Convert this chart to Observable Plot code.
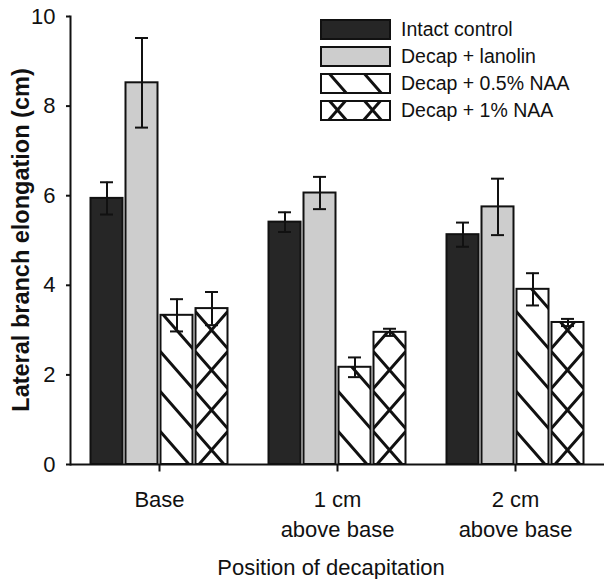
<!DOCTYPE html>
<html>
<head>
<meta charset="utf-8">
<script src="https://cdn.jsdelivr.net/npm/d3@7"></script>
<script src="https://cdn.jsdelivr.net/npm/@observablehq/plot@0.6"></script>
<style>
  html, body { margin: 0; padding: 0; background: #fff; }
  #wrap { position: relative; width: 604px; height: 579px; font-family: "Liberation Sans", Arial, sans-serif; color: #111; }
  #ylabel { position: absolute; left: 22px; top: 240px; transform: translate(-50%, -50%) rotate(-90deg); white-space: nowrap; font-weight: bold; font-size: 23.5px; line-height: 1; }
  #xlabel { position: absolute; left: 331px; top: 557px; transform: translateX(-50%); white-space: nowrap; font-size: 22px; line-height: 1; }
  #legend { position: absolute; left: 320px; top: 19px; }
  .row { display: flex; align-items: center; height: 21px; margin-bottom: 6px; font-size: 19.5px; }
  .row svg { margin-right: 10px; display: block; }
</style>
</head>
<body>
<div id="wrap"></div>
<script>
const groups = ["Base", "1 cm above base", "2 cm above base"];
const groupLabels = ["Base", "1 cm\nabove base", "2 cm\nabove base"];
const series = ["Intact control", "Decap + lanolin", "Decap + 0.5% NAA", "Decap + 1% NAA"];
// mean values per group, in series order
const baseValues = [5.94, 8.52, 3.33, 3.48];
const oneCmValues = [5.41, 6.06, 2.17, 2.95];
const twoCmValues = [5.13, 5.75, 3.91, 3.17];
// error (± SE) per group, in series order
const baseErrors = [0.36, 1.0, 0.36, 0.37];
const oneCmErrors = [0.22, 0.36, 0.22, 0.08];
const twoCmErrors = [0.27, 0.63, 0.36, 0.08];
const yTicks = [0, 2, 4, 6, 8, 10];
const seriesFills = ["#262626", "#cdcdcd", "url(#diag)", "url(#cross)"];

const valueRows = [baseValues, oneCmValues, twoCmValues];
const errorRows = [baseErrors, oneCmErrors, twoCmErrors];
const data = [];
groups.forEach((g, gi) => series.forEach((s, si) => {
  const v = valueRows[gi][si], e = errorRows[gi][si];
  data.push({group: g, series: s, value: v, lo: v - e, hi: v + e});
}));

const FONT = '"Liberation Sans", Arial, sans-serif';

// short downward tick at the middle of each group, drawn as a custom symbol
const groupTick = {draw(context) { context.moveTo(0, 0); context.lineTo(0, 7); }};

const plot = Plot.plot({
  width: 604,
  height: 579,
  marginLeft: 70,
  marginRight: 0,
  marginTop: 16,
  marginBottom: 115,
  style: {fontFamily: FONT, fontSize: "22px", color: "#111", background: "#fff"},
  facet: {data, x: "group"},
  fx: {domain: groups, paddingInner: 0, paddingOuter: 0, label: null},
  x: {domain: series, paddingInner: 0, paddingOuter: 0.525, axis: null},
  y: {domain: [0, 10], label: null},
  color: {domain: series, range: seriesFills},
  marks: [
    Plot.axisY({ticks: yTicks, tickSize: 4, tickPadding: 11, strokeWidth: 2, label: null}),
    Plot.frame({anchor: "left", facetAnchor: "left", stroke: "#111", strokeWidth: 2}),
    Plot.axisFx({anchor: "bottom", tickSize: 0, tickPadding: 21, lineHeight: 1.36, label: null,
                 tickFormat: g => groupLabels[groups.indexOf(g)]}),
    Plot.barY(data, {x: "series", y: "value", fill: "series", stroke: "#111", strokeWidth: 2, insetLeft: 1.5, insetRight: 1.5}),
    Plot.ruleX(data, {x: "series", y1: "lo", y2: "hi", stroke: "#111", strokeWidth: 2}),
    Plot.tickY(data, {x: "series", y: "hi", stroke: "#111", strokeWidth: 2, insetLeft: 11, insetRight: 11}),
    Plot.tickY(data, {x: "series", y: "lo", stroke: "#111", strokeWidth: 2, insetLeft: 11, insetRight: 11}),
    Plot.ruleY([0], {stroke: "#111", strokeWidth: 2}),
    Plot.dot([0], {frameAnchor: "bottom", symbol: groupTick, fill: "none", stroke: "#111", strokeWidth: 2})
  ]
});

// hatch patterns for the NAA bars, aligned with the x band scale
const xs = plot.scale("x");
const ys = plot.scale("y");
const bw = xs.bandwidth;
const th = 40;
const y0 = ys.apply(0);
function patternDefs(idSuffix, xDiag, xCross, yOff) {
  const w = bw, h = th;
  const diagPath = `M0,0L${w},${h}M${-w},0L${w},${2*h}M0,${-h}L${2*w},${h}`;
  const crossPath = diagPath + `M0,${h}L${w},0M${-w},${h}L${w},${-h}M0,${2*h}L${2*w},0`;
  return `<defs>
    <pattern id="diag${idSuffix}" patternUnits="userSpaceOnUse" x="${xDiag}" y="${yOff}" width="${w}" height="${h}">
      <rect width="${w}" height="${h}" fill="#fff"/>
      <path d="${diagPath}" stroke="#111" stroke-width="3" fill="none"/>
    </pattern>
    <pattern id="cross${idSuffix}" patternUnits="userSpaceOnUse" x="${xCross}" y="${yOff}" width="${w}" height="${h}">
      <rect width="${w}" height="${h}" fill="#fff"/>
      <path d="${crossPath}" stroke="#111" stroke-width="3" fill="none"/>
    </pattern>
  </defs>`;
}
plot.insertAdjacentHTML("afterbegin", patternDefs("", xs.apply(series[2]), xs.apply(series[3]), y0 - 34));

const wrap = document.getElementById("wrap");
wrap.appendChild(plot);

const ylab = document.createElement("div");
ylab.id = "ylabel"; ylab.textContent = "Lateral branch elongation (cm)";
wrap.appendChild(ylab);
const xlab = document.createElement("div");
xlab.id = "xlabel"; xlab.textContent = "Position of decapitation";
wrap.appendChild(xlab);

const legend = document.createElement("div");
legend.id = "legend";
const legendFills = ["#262626", "#cdcdcd", "url(#diagL)", "url(#crossL)"];
series.forEach((s, i) => {
  const row = document.createElement("div");
  row.className = "row";
  const defs = i === 2 ? patternDefs("L", 0, 0, -10) : "";
  row.innerHTML = `<svg width="71" height="21">${defs}<rect x="1" y="1" width="69" height="19" fill="${legendFills[i]}" stroke="#111" stroke-width="2"/></svg><span>${s}</span>`;
  legend.appendChild(row);
});
wrap.appendChild(legend);
</script>
</body>
</html>
